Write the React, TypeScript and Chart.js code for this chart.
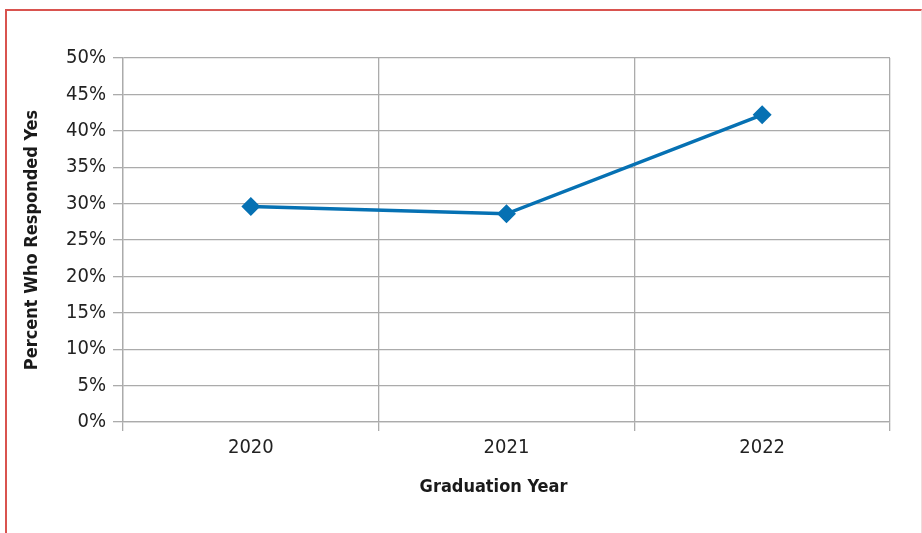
import React, { useEffect, useRef } from "react";
import { Chart, registerables } from "chart.js";

Chart.register(...registerables);

const categories = ["2020", "2021", "2022"];
const percentYes = [29.6, 28.6, 42.2];
const yTicksMin = 0;
const yTicksMax = 50;
const yTickStep = 5;
const xTitle = "Graduation Year";
const yTitle = "Percent Who Responded Yes";

const FONT = "'Liberation Sans Narrow', 'Arial Narrow', 'DejaVu Sans Condensed', sans-serif";
const GRID = "#ababab";

const xTitlePlugin = {
  id: "xTitlePlugin",
  afterDraw(chart: any) {
    const { ctx, chartArea } = chart;
    ctx.save();
    ctx.font = `bold 18px ${FONT}`;
    ctx.fillStyle = "#1a1a1a";
    ctx.textAlign = "center";
    ctx.textBaseline = "middle";
    ctx.fillText(xTitle, (chartArea.left + chartArea.right) / 2 - 13, chartArea.bottom + 65);
    ctx.restore();
  },
};

export default function App() {
  const ref = useRef<HTMLCanvasElement | null>(null);
  useEffect(() => {
    if (!ref.current) return;
    const chart = new Chart(ref.current, {
      type: "line",
      data: {
        labels: categories,
        datasets: [
          {
            data: percentYes,
            borderColor: "#0671b3",
            backgroundColor: "#0671b3",
            borderWidth: 3.5,
            pointStyle: "rectRot",
            pointRadius: 7,
            pointHoverRadius: 7,
            tension: 0,
          },
        ],
      },
      options: {
        animation: false,
        responsive: false,
        devicePixelRatio: 1,
        layout: { padding: { top: 58, right: 32, left: 0, bottom: 0 } },
        plugins: { legend: { display: false }, tooltip: { enabled: false } },
        scales: {
          x: {
            offset: true,
            grid: { offset: true, color: GRID, lineWidth: 1.3, tickLength: 9, drawTicks: true },
            border: { color: GRID, width: 1.3 },
            ticks: { font: { family: FONT, size: 20 }, color: "#222", padding: 5 },
            afterFit: (s: any) => { s.height = 111; },
          },
          y: {
            min: yTicksMin,
            max: yTicksMax,
            grid: { color: GRID, lineWidth: 1.3, tickLength: 10 },
            border: { color: GRID, width: 1.3 },
            ticks: {
              stepSize: yTickStep,
              font: { family: FONT, size: 20 },
              color: "#222",
              padding: 7,
              callback: (v: any) => `${v}%`,
            },
            title: {
              display: true,
              text: yTitle,
              font: { family: FONT, size: 18, weight: "bold" },
              color: "#1a1a1a",
              padding: { top: 22, bottom: 0 },
            },
            afterFit: (s: any) => { s.width = 123; },
          },
        },
      },
      plugins: [xTitlePlugin],
    });
    return () => chart.destroy();
  }, []);
  return (
    <div style={{ position: "absolute", left: 0, top: 0, width: 922, height: 533, background: "#fff", overflow: "hidden" }}>
      <div
        style={{
          position: "absolute",
          left: 5,
          top: 9,
          width: 914,
          height: 540,
          borderLeft: "2px solid #d9534f",
          borderTop: "2px solid #d9534f",
          borderRight: "1px solid #f0dcdc",
        }}
      />
      <canvas ref={ref} width={922} height={533} style={{ position: "absolute", left: 0, top: 0, display: "block" }} />
    </div>
  );
}
